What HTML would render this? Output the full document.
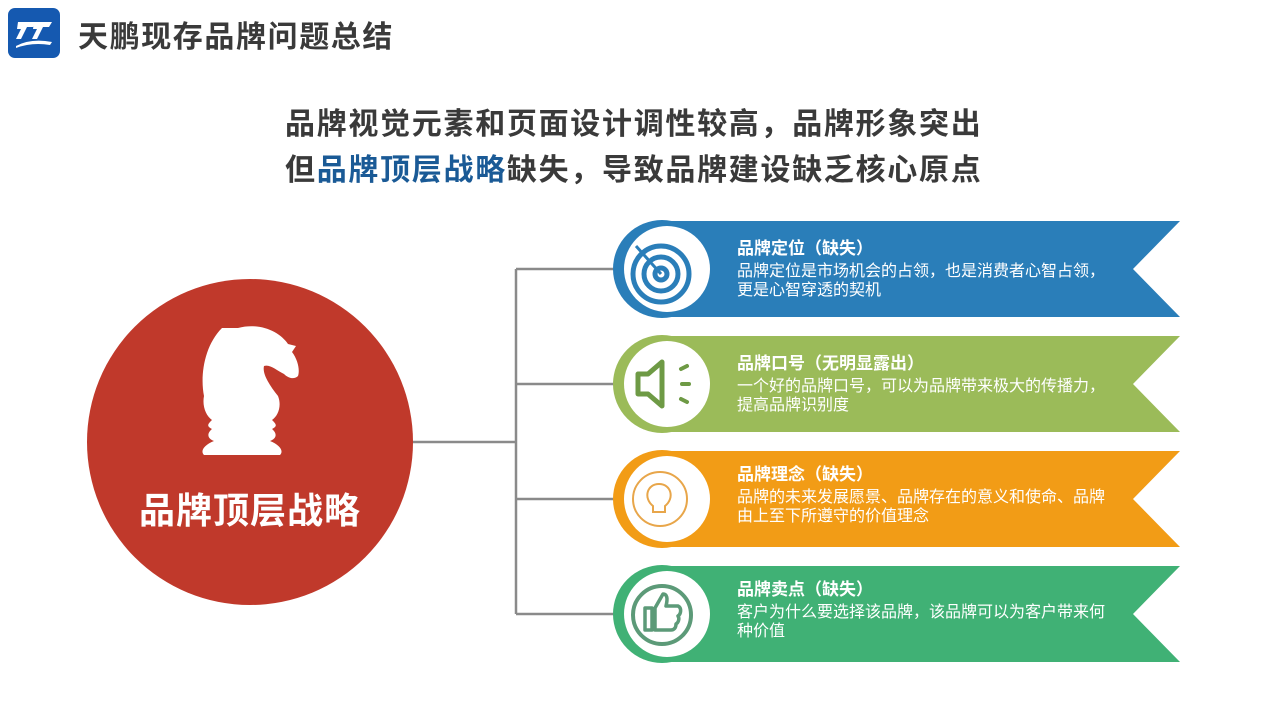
<!DOCTYPE html>
<html><head><meta charset="utf-8"><style>
body{margin:0;width:1266px;height:710px;background:#fff;overflow:hidden;font-family:"Liberation Sans","Noto Sans CJK SC",sans-serif;}
svg{position:absolute;left:0;top:0}
.t{position:absolute;white-space:nowrap;font-weight:bold}
.b{position:absolute;left:737px;color:#fff;font-size:16px;line-height:19px}
.b div{font-weight:bold;font-size:17px;margin-bottom:4px}
</style></head><body>
<svg width="1266" height="710" viewBox="0 0 1266 710">
<rect x="8" y="8" width="52" height="50" rx="7" fill="#1559b0"/>
<path d="M18 22 h18 l-3 5 h-6 l-6 12 h-5 l5-10 h-4z M34 22 h18 l-3 5 h-6 l-6 12 h-5 l5-10 h-4z" fill="#fff"/>
<path d="M16 46 q15 -8 36 -4 l-2 3 q-18 -3 -34 3z" fill="#fff"/>
<g stroke="#8a8a8a" stroke-width="2.5" fill="none">
<line x1="410" y1="442" x2="516" y2="442"/>
<line x1="516" y1="269" x2="516" y2="614"/>
<line x1="516" y1="269" x2="620" y2="269"/>
<line x1="516" y1="384" x2="620" y2="384"/>
<line x1="516" y1="499" x2="620" y2="499"/>
<line x1="516" y1="614" x2="620" y2="614"/>
</g>
<circle cx="250" cy="442" r="163" fill="#c0392b"/>
<path d="M238 328 c22-6 42 4 50 16 l8 2 -4 6 c6 8 8 18 6 24 -4 4 -10 2 -14-2 -8-4 -14-10 -20-8 c-2 8 6 20 14 30 c4 10 0 20 -6 24 c4 4 6 6 0 9 c6 5 4 10 -2 12 c10 4 14 10 10 14 h-76 c-4-4 0-10 10-14 c-6-2 -8-7 -2-12 c-6-3 -4-5 0-9 c-6-4 -10-14 -8-24 c-4-20 0-50 18-68z" fill="#fff"/>
<g>
<polygon points="660,221 1180,221 1133,269 1180,317 660,317" fill="#2a7eb9"/>
<circle cx="662" cy="269" r="49" fill="#2a7eb9"/><circle cx="667" cy="269" r="43" fill="#fff"/>
<g fill="none" stroke="#2a7eb9" stroke-width="5"><circle cx="661" cy="274" r="28"/><circle cx="661" cy="274" r="17"/><circle cx="661" cy="274" r="6"/></g>
<line x1="661" y1="274" x2="636" y2="246" stroke="#2a7eb9" stroke-width="3"/>
<polygon points="660,336 1180,336 1133,384 1180,432 660,432" fill="#9bbb59"/>
<circle cx="662" cy="384" r="49" fill="#9bbb59"/><circle cx="667" cy="384" r="43" fill="#fff"/>
<path d="M638 374 h10 l14-12 v44 l-14-12 h-10z" fill="none" stroke="#6e9a45" stroke-width="5" stroke-linejoin="round"/>
<g stroke="#6e9a45" stroke-width="4" stroke-linecap="round"><line x1="681" y1="369" x2="687" y2="366"/><line x1="682" y1="384" x2="689" y2="384"/><line x1="681" y1="399" x2="687" y2="402"/></g>
<polygon points="660,451 1180,451 1133,499 1180,547 660,547" fill="#f29c16"/>
<circle cx="662" cy="499" r="49" fill="#f29c16"/><circle cx="667" cy="499" r="43" fill="#fff"/>
<circle cx="660" cy="499" r="27" fill="none" stroke="#e8a64a" stroke-width="2"/>
<path d="M653 506 c-10-8 -6-22 6-22 c12 0 16 14 6 22 v6 h-12z" fill="none" stroke="#e8a64a" stroke-width="2"/>
<polygon points="660,566 1180,566 1133,614 1180,662 660,662" fill="#40b175"/>
<circle cx="662" cy="614" r="49" fill="#40b175"/><circle cx="667" cy="614" r="43" fill="#fff"/>
<circle cx="662" cy="615" r="29" fill="none" stroke="#5c9a78" stroke-width="4"/>
<path d="M645 608 h7 v22 h-7z M655 608 l8-14 c4 0 5 4 3 12 h12 c4 2 3 8 0 10 c2 3 0 7-2 8 c0 4-2 6-5 6 h-16z" fill="none" stroke="#5c9a78" stroke-width="3.5" stroke-linejoin="round"/>
</g>
</svg>
<div class="t" style="left:78px;top:12px;font-size:30px;color:#3a3a3a;letter-spacing:1.6px">天鹏现存品牌问题总结</div>
<div class="t" style="left:285px;top:99px;font-size:30px;color:#3a3a3a;letter-spacing:1.7px">品牌视觉元素和页面设计调性较高，品牌形象突出</div>
<div class="t" style="left:285px;top:145px;font-size:30px;color:#3a3a3a;letter-spacing:1.7px">但<span style="color:#1a5a96">品牌顶层战略</span>缺失，导致品牌建设缺乏核心原点</div>
<div class="t" style="left:139px;top:482px;font-size:36px;color:#fff;letter-spacing:1px">品牌顶层战略</div>
<div class="b" style="top:239px"><div>品牌定位（缺失）</div>品牌定位是市场机会的占领，也是消费者心智占领，<br>更是心智穿透的契机</div>
<div class="b" style="top:354px"><div>品牌口号（无明显露出）</div>一个好的品牌口号，可以为品牌带来极大的传播力，<br>提高品牌识别度</div>
<div class="b" style="top:465px"><div>品牌理念（缺失）</div>品牌的未来发展愿景、品牌存在的意义和使命、品牌<br>由上至下所遵守的价值理念</div>
<div class="b" style="top:580px"><div>品牌卖点（缺失）</div>客户为什么要选择该品牌，该品牌可以为客户带来何<br>种价值</div>
</body></html>
